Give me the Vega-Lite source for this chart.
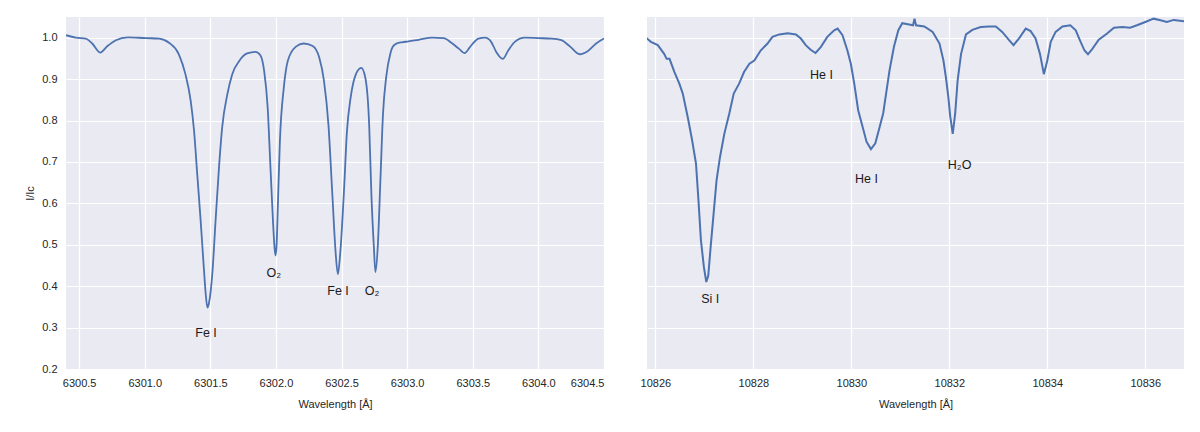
{
  "$schema": "https://vega.github.io/schema/vega-lite/v6.json",
  "padding": {"left": 24, "top": 17, "right": 5, "bottom": 5},
  "background": "white",
  "datasets": {
    "fe": [
      {"wl": 6300.40, "I": 1.006}, {"wl": 6300.475, "I": 1.0}, {"wl": 6300.55, "I": 0.998}, {"wl": 6300.60, "I": 0.986},
      {"wl": 6300.66, "I": 0.964}, {"wl": 6300.716, "I": 0.980}, {"wl": 6300.78, "I": 0.994}, {"wl": 6300.87, "I": 1.001},
      {"wl": 6301.01, "I": 0.999}, {"wl": 6301.11, "I": 0.998}, {"wl": 6301.185, "I": 0.988}, {"wl": 6301.26, "I": 0.96},
      {"wl": 6301.31, "I": 0.912}, {"wl": 6301.35, "I": 0.848}, {"wl": 6301.376, "I": 0.775}, {"wl": 6301.40, "I": 0.671},
      {"wl": 6301.426, "I": 0.559}, {"wl": 6301.45, "I": 0.446}, {"wl": 6301.465, "I": 0.38}, {"wl": 6301.478, "I": 0.348},
      {"wl": 6301.49, "I": 0.36}, {"wl": 6301.515, "I": 0.43}, {"wl": 6301.54, "I": 0.559}, {"wl": 6301.566, "I": 0.687},
      {"wl": 6301.59, "I": 0.783}, {"wl": 6301.63, "I": 0.864}, {"wl": 6301.667, "I": 0.912}, {"wl": 6301.72, "I": 0.944},
      {"wl": 6301.78, "I": 0.962}, {"wl": 6301.845, "I": 0.966}, {"wl": 6301.88, "I": 0.958}, {"wl": 6301.91, "I": 0.92},
      {"wl": 6301.937, "I": 0.831}, {"wl": 6301.957, "I": 0.695}, {"wl": 6301.977, "I": 0.559}, {"wl": 6301.99, "I": 0.49},
      {"wl": 6301.997, "I": 0.474}, {"wl": 6302.005, "I": 0.5}, {"wl": 6302.015, "I": 0.6}, {"wl": 6302.03, "I": 0.75},
      {"wl": 6302.06, "I": 0.88}, {"wl": 6302.09, "I": 0.944}, {"wl": 6302.15, "I": 0.978}, {"wl": 6302.21, "I": 0.986},
      {"wl": 6302.28, "I": 0.98}, {"wl": 6302.33, "I": 0.952}, {"wl": 6302.366, "I": 0.896}, {"wl": 6302.40, "I": 0.79},
      {"wl": 6302.43, "I": 0.62}, {"wl": 6302.455, "I": 0.48}, {"wl": 6302.472, "I": 0.429}, {"wl": 6302.49, "I": 0.48},
      {"wl": 6302.52, "I": 0.64}, {"wl": 6302.54, "I": 0.769}, {"wl": 6302.57, "I": 0.857}, {"wl": 6302.606, "I": 0.909},
      {"wl": 6302.65, "I": 0.927}, {"wl": 6302.68, "I": 0.905}, {"wl": 6302.71, "I": 0.793}, {"wl": 6302.728, "I": 0.616},
      {"wl": 6302.746, "I": 0.496}, {"wl": 6302.758, "I": 0.434}, {"wl": 6302.776, "I": 0.496}, {"wl": 6302.796, "I": 0.656},
      {"wl": 6302.816, "I": 0.817}, {"wl": 6302.84, "I": 0.905}, {"wl": 6302.872, "I": 0.962}, {"wl": 6302.89, "I": 0.978},
      {"wl": 6302.92, "I": 0.986}, {"wl": 6302.96, "I": 0.989},
      {"wl": 6303.01, "I": 0.991}, {"wl": 6303.087, "I": 0.995}, {"wl": 6303.19, "I": 1.0}, {"wl": 6303.277, "I": 0.999},
      {"wl": 6303.34, "I": 0.987}, {"wl": 6303.396, "I": 0.973}, {"wl": 6303.437, "I": 0.963}, {"wl": 6303.48, "I": 0.978},
      {"wl": 6303.543, "I": 0.998}, {"wl": 6303.594, "I": 1.0}, {"wl": 6303.64, "I": 0.99}, {"wl": 6303.68, "I": 0.965},
      {"wl": 6303.728, "I": 0.949}, {"wl": 6303.77, "I": 0.969}, {"wl": 6303.82, "I": 0.99}, {"wl": 6303.897, "I": 1.0},
      {"wl": 6303.999, "I": 0.999}, {"wl": 6304.1, "I": 0.998}, {"wl": 6304.176, "I": 0.994}, {"wl": 6304.24, "I": 0.979},
      {"wl": 6304.315, "I": 0.96}, {"wl": 6304.378, "I": 0.968}, {"wl": 6304.44, "I": 0.986}, {"wl": 6304.5, "I": 0.998}
    ],
    "feLabels": [
      {"wl": 6301.467, "I": 0.288, "label": "Fe I"},
      {"wl": 6301.983, "I": 0.431, "label": "O₂"},
      {"wl": 6302.473, "I": 0.388, "label": "Fe I"},
      {"wl": 6302.732, "I": 0.388, "label": "O₂"}
    ],
    "he": [
      {"wl": 10825.81, "I": 1.0}, {"wl": 10825.91, "I": 0.99}, {"wl": 10826.05, "I": 0.982}, {"wl": 10826.18, "I": 0.961},
      {"wl": 10826.23, "I": 0.949}, {"wl": 10826.29, "I": 0.949}, {"wl": 10826.39, "I": 0.917}, {"wl": 10826.49, "I": 0.889},
      {"wl": 10826.56, "I": 0.865}, {"wl": 10826.66, "I": 0.809}, {"wl": 10826.75, "I": 0.753}, {"wl": 10826.83, "I": 0.696},
      {"wl": 10826.88, "I": 0.608}, {"wl": 10826.93, "I": 0.512}, {"wl": 10826.99, "I": 0.447}, {"wl": 10827.04, "I": 0.41},
      {"wl": 10827.08, "I": 0.425}, {"wl": 10827.13, "I": 0.496}, {"wl": 10827.19, "I": 0.576}, {"wl": 10827.25, "I": 0.656},
      {"wl": 10827.32, "I": 0.712}, {"wl": 10827.41, "I": 0.769}, {"wl": 10827.51, "I": 0.817}, {"wl": 10827.60, "I": 0.865},
      {"wl": 10827.71, "I": 0.889}, {"wl": 10827.81, "I": 0.917}, {"wl": 10827.92, "I": 0.937}, {"wl": 10828.02, "I": 0.945},
      {"wl": 10828.15, "I": 0.969}, {"wl": 10828.29, "I": 0.986}, {"wl": 10828.39, "I": 1.002}, {"wl": 10828.53, "I": 1.008},
      {"wl": 10828.70, "I": 1.011}, {"wl": 10828.87, "I": 1.008}, {"wl": 10828.97, "I": 0.998}, {"wl": 10829.07, "I": 0.982},
      {"wl": 10829.17, "I": 0.971}, {"wl": 10829.27, "I": 0.963}, {"wl": 10829.38, "I": 0.978}, {"wl": 10829.51, "I": 1.002},
      {"wl": 10829.65, "I": 1.018}, {"wl": 10829.72, "I": 1.022}, {"wl": 10829.82, "I": 1.006}, {"wl": 10829.92, "I": 0.969},
      {"wl": 10829.99, "I": 0.937}, {"wl": 10830.06, "I": 0.889}, {"wl": 10830.14, "I": 0.825}, {"wl": 10830.23, "I": 0.785},
      {"wl": 10830.31, "I": 0.749}, {"wl": 10830.40, "I": 0.731}, {"wl": 10830.49, "I": 0.745}, {"wl": 10830.57, "I": 0.781},
      {"wl": 10830.65, "I": 0.817}, {"wl": 10830.71, "I": 0.865}, {"wl": 10830.78, "I": 0.921}, {"wl": 10830.87, "I": 0.978},
      {"wl": 10830.96, "I": 1.018}, {"wl": 10831.04, "I": 1.035}, {"wl": 10831.18, "I": 1.032}, {"wl": 10831.26, "I": 1.03},
      {"wl": 10831.29, "I": 1.046}, {"wl": 10831.32, "I": 1.03}, {"wl": 10831.49, "I": 1.027}, {"wl": 10831.66, "I": 1.014},
      {"wl": 10831.80, "I": 0.986}, {"wl": 10831.88, "I": 0.945}, {"wl": 10831.93, "I": 0.905}, {"wl": 10831.98, "I": 0.857},
      {"wl": 10832.02, "I": 0.809}, {"wl": 10832.07, "I": 0.768}, {"wl": 10832.12, "I": 0.817}, {"wl": 10832.17, "I": 0.897},
      {"wl": 10832.24, "I": 0.961}, {"wl": 10832.34, "I": 1.008}, {"wl": 10832.47, "I": 1.019}, {"wl": 10832.64, "I": 1.026},
      {"wl": 10832.81, "I": 1.027}, {"wl": 10832.95, "I": 1.027}, {"wl": 10833.08, "I": 1.014}, {"wl": 10833.22, "I": 0.994},
      {"wl": 10833.31, "I": 0.982}, {"wl": 10833.42, "I": 0.998}, {"wl": 10833.56, "I": 1.022}, {"wl": 10833.66, "I": 1.016},
      {"wl": 10833.76, "I": 0.998}, {"wl": 10833.85, "I": 0.961}, {"wl": 10833.93, "I": 0.912}, {"wl": 10834.00, "I": 0.945},
      {"wl": 10834.07, "I": 0.99}, {"wl": 10834.17, "I": 1.014}, {"wl": 10834.31, "I": 1.027}, {"wl": 10834.47, "I": 1.03},
      {"wl": 10834.58, "I": 1.018}, {"wl": 10834.68, "I": 0.99}, {"wl": 10834.76, "I": 0.969}, {"wl": 10834.83, "I": 0.96},
      {"wl": 10834.92, "I": 0.973}, {"wl": 10835.05, "I": 0.995}, {"wl": 10835.22, "I": 1.01}, {"wl": 10835.36, "I": 1.024},
      {"wl": 10835.53, "I": 1.026}, {"wl": 10835.69, "I": 1.024}, {"wl": 10835.83, "I": 1.03}, {"wl": 10836.0, "I": 1.038},
      {"wl": 10836.17, "I": 1.046}, {"wl": 10836.31, "I": 1.042}, {"wl": 10836.44, "I": 1.038}, {"wl": 10836.58, "I": 1.043},
      {"wl": 10836.79, "I": 1.04}
    ],
    "heLabels": [
      {"wl": 10827.12, "I": 0.370, "label": "Si I"},
      {"wl": 10829.39, "I": 0.909, "label": "He I"},
      {"wl": 10830.31, "I": 0.659, "label": "He I"},
      {"wl": 10832.21, "I": 0.692, "label": "H₂O"}
    ]
  },
  "hconcat": [
    {
      "width": 538,
      "height": 352,
      "layer": [
        {
          "data": {"name": "fe"},
          "mark": {"type": "line", "color": "#4C72B0", "strokeWidth": 1.8, "interpolate": "monotone", "clip": true},
          "encoding": {
            "x": {"field": "wl", "type": "quantitative",
                  "scale": {"domain": [6300.4, 6304.5], "nice": false, "zero": false},
                  "axis": {"title": "Wavelength [Å]", "values": [6300.5, 6301.0, 6301.5, 6302.0, 6302.5, 6303.0, 6303.5, 6304.0, 6304.5], "format": ".1f"}},
            "y": {"field": "I", "type": "quantitative",
                  "scale": {"domain": [0.2, 1.05], "nice": false, "zero": false},
                  "axis": {"title": "I/Iᴄ", "values": [0.2, 0.3, 0.4, 0.5, 0.6, 0.7, 0.8, 0.9, 1.0], "format": ".1f", "labelPadding": 9, "titlePadding": 6}}
          }
        },
        {
          "data": {"name": "feLabels"},
          "mark": {"type": "text", "fontSize": 12.5, "color": "#1a1a1a", "align": "center", "baseline": "middle"},
          "encoding": {
            "x": {"field": "wl", "type": "quantitative"},
            "y": {"field": "I", "type": "quantitative"},
            "text": {"field": "label"}
          }
        }
      ]
    },
    {
      "width": 537,
      "height": 352,
      "layer": [
        {
          "data": {"name": "he"},
          "mark": {"type": "line", "color": "#4C72B0", "strokeWidth": 2, "interpolate": "linear", "clip": true},
          "encoding": {
            "x": {"field": "wl", "type": "quantitative",
                  "scale": {"domain": [10825.83, 10836.79], "nice": false, "zero": false},
                  "axis": {"title": "Wavelength [Å]", "values": [10826, 10828, 10830, 10832, 10834, 10836], "format": "d"}},
            "y": {"field": "I", "type": "quantitative",
                  "scale": {"domain": [0.2, 1.05], "nice": false, "zero": false},
                  "axis": {"title": null, "labels": false, "values": [0.2, 0.3, 0.4, 0.5, 0.6, 0.7, 0.8, 0.9, 1.0], "minExtent": 0, "maxExtent": 0}}
          }
        },
        {
          "data": {"name": "heLabels"},
          "mark": {"type": "text", "fontSize": 12.5, "color": "#1a1a1a", "align": "center", "baseline": "middle"},
          "encoding": {
            "x": {"field": "wl", "type": "quantitative"},
            "y": {"field": "I", "type": "quantitative"},
            "text": {"field": "label"}
          }
        }
      ]
    }
  ],
  "spacing": 36,
  "config": {
    "font": "Liberation Sans",
    "view": {"stroke": null, "fill": "#EAEAF2"},
    "axis": {
      "grid": true, "gridColor": "#FFFFFF", "gridWidth": 1.2, "ticks": false, "domain": false,
      "labelFontSize": 11, "labelColor": "#262626", "titleFontSize": 11, "titleFontWeight": "normal",
      "titleColor": "#262626", "labelPadding": 8, "titlePadding": 10
    }
  }
}
